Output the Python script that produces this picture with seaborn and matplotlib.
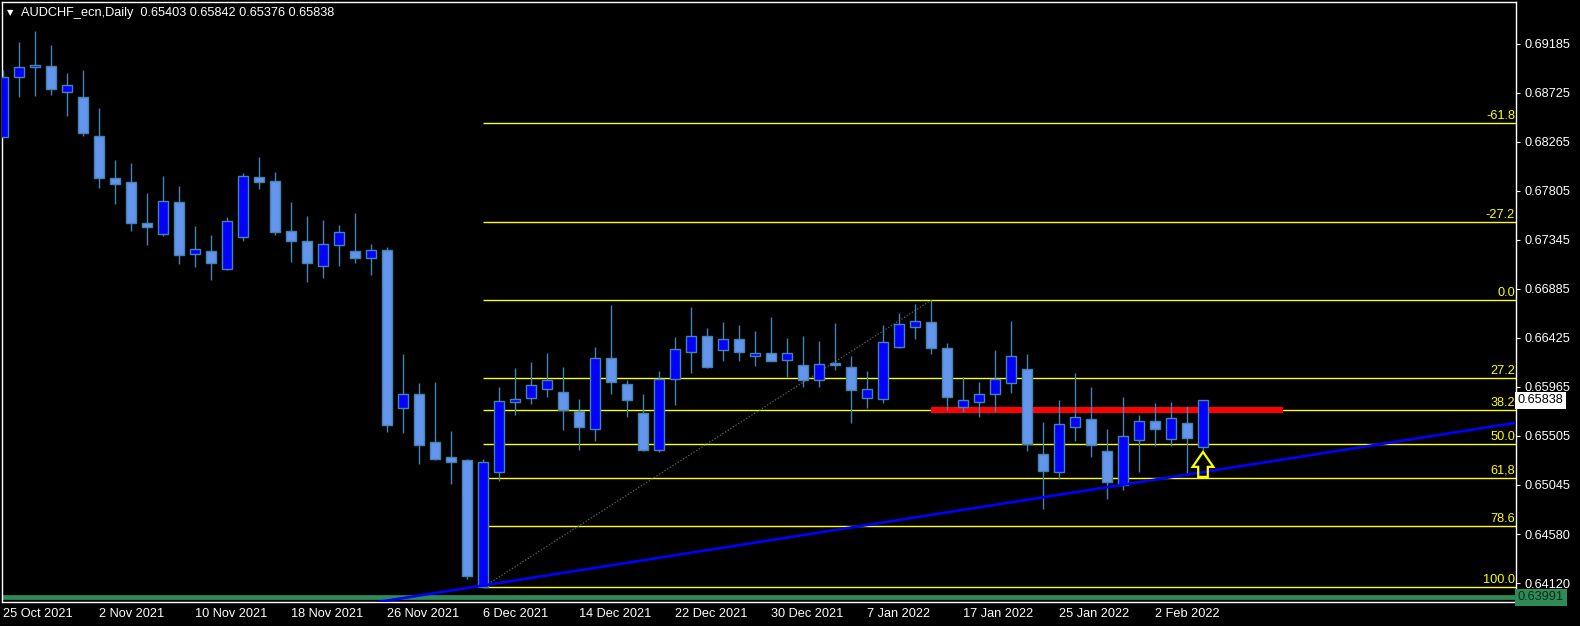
import matplotlib
matplotlib.use("Agg")
import matplotlib.pyplot as plt
import matplotlib.transforms as mtransforms
from matplotlib.patches import FancyArrow
import pandas as pd
import seaborn as sns

symbol = "AUDCHF_ecn,Daily"

# daily OHLC, one row per trading day from 25 Oct 2021 to 7 Feb 2022
opens = [0.68309, 0.68878, 0.68966, 0.68978, 0.68737, 0.68687, 0.68321, 0.67927, 0.67889, 0.67504,
         0.67398, 0.67701, 0.67210, 0.67241, 0.67069, 0.67370, 0.67933, 0.67896, 0.67429, 0.67335,
         0.67098, 0.67295, 0.67241, 0.67178, 0.67250, 0.65764, 0.65898, 0.65448, 0.65307, 0.65278,
         0.64090, 0.65169, 0.65826, 0.65863, 0.65948, 0.65917, 0.65741, 0.65572, 0.66236, 0.65992,
         0.65720, 0.65375, 0.66036, 0.66290, 0.66443, 0.66314, 0.66412, 0.66252, 0.66283, 0.66215,
         0.66168, 0.66027, 0.66189, 0.66149, 0.65863, 0.65848, 0.66342, 0.66530, 0.66574, 0.66330,
         0.65779, 0.65826, 0.65895, 0.65999, 0.66133, 0.65335, 0.65163, 0.65585, 0.65661, 0.65360,
         0.65041, 0.65469, 0.65645, 0.65479, 0.65623, 0.65403]
highs = [0.68941, 0.69204, 0.69307, 0.69176, 0.68913, 0.68941, 0.68584, 0.68096, 0.68067, 0.67786,
         0.67945, 0.67852, 0.67476, 0.67391, 0.67560, 0.67974, 0.68124, 0.67983, 0.67701, 0.67570,
         0.67532, 0.67485, 0.67598, 0.67307, 0.67279, 0.66274, 0.66002, 0.66011, 0.65551, 0.65290,
         0.65288, 0.65964, 0.66142, 0.66199, 0.66283, 0.66152, 0.65851, 0.66340, 0.66734, 0.66030,
         0.65898, 0.66114, 0.66434, 0.66715, 0.66518, 0.66574, 0.66546, 0.66490, 0.66621, 0.66424,
         0.66443, 0.66396, 0.66565, 0.66255, 0.66114, 0.66546, 0.66659, 0.66745, 0.66778, 0.66377,
         0.66058, 0.66011, 0.66311, 0.66584, 0.66274, 0.65635, 0.65842, 0.66095, 0.65964, 0.65570,
         0.65870, 0.65701, 0.65814, 0.65823, 0.65786, 0.65842]
lows = [0.68300, 0.68690, 0.68697, 0.68706, 0.68509, 0.68324, 0.67836, 0.67685, 0.67432, 0.67300,
        0.67385, 0.67122, 0.67094, 0.66972, 0.67060, 0.67338, 0.67826, 0.67394, 0.67141, 0.66953,
        0.66990, 0.67103, 0.67131, 0.67016, 0.65544, 0.65535, 0.65244, 0.65280, 0.65053, 0.64161,
        0.64083, 0.65084, 0.65704, 0.65807, 0.65873, 0.65560, 0.65372, 0.65460, 0.65898, 0.65682,
        0.65366, 0.65354, 0.65795, 0.66095, 0.66145, 0.66208, 0.66208, 0.66161, 0.66205, 0.66061,
        0.65967, 0.65967, 0.66126, 0.65629, 0.65770, 0.65817, 0.66333, 0.66417, 0.66277, 0.65748,
        0.65732, 0.65685, 0.65732, 0.65910, 0.65366, 0.64821, 0.65103, 0.65460, 0.65309, 0.64915,
        0.65000, 0.65168, 0.65413, 0.65413, 0.65153, 0.65376]
closes = [0.68878, 0.68966, 0.68985, 0.68762, 0.68797, 0.68349, 0.67929, 0.67873, 0.67507, 0.67469,
          0.67708, 0.67206, 0.67257, 0.67131, 0.67520, 0.67943, 0.67892, 0.67422, 0.67338, 0.67131,
          0.67304, 0.67417, 0.67178, 0.67248, 0.65607, 0.65895, 0.65422, 0.65288, 0.65260, 0.64189,
          0.65257, 0.65832, 0.65851, 0.65980, 0.66030, 0.65748, 0.65588, 0.66233, 0.66011, 0.65842,
          0.65372, 0.66039, 0.66318, 0.66440, 0.66152, 0.66412, 0.66295, 0.66280, 0.66211, 0.66280,
          0.66027, 0.66177, 0.66168, 0.65939, 0.65943, 0.66384, 0.66556, 0.66581, 0.66333, 0.65870,
          0.65839, 0.65895, 0.66036, 0.66252, 0.65429, 0.65178, 0.65614, 0.65679, 0.65417, 0.65075,
          0.65501, 0.65642, 0.65572, 0.65670, 0.65488, 0.65838]

date_labels = ['25 Oct 2021', '2 Nov 2021', '10 Nov 2021', '18 Nov 2021', '26 Nov 2021',
               '6 Dec 2021', '14 Dec 2021', '22 Dec 2021', '30 Dec 2021', '7 Jan 2022',
               '17 Jan 2022', '25 Jan 2022', '2 Feb 2022']
price_ticks = [0.69185, 0.68725, 0.68265, 0.67805, 0.67345, 0.66885, 0.66425,
               0.65965, 0.65505, 0.65045, 0.64580, 0.64120]

# fibo retracement drawn from the 6 Dec low to the 11 Jan high
fib_low_bar = 30
fib_high_bar = 58
fib_levels = [-61.8, -27.2, 0.0, 27.2, 38.2, 50.0, 61.8, 78.6, 100.0]
fib_labels = ['-61.8', '-27.2', '0.0', '27.2', '38.2', '50.0', '61,8', '78.6', '100.0']

# other chart objects
trend_bars = [30, 75]
trend_prices = [0.64100, 0.65165]
zone_bars = [58, 80]
zone_prices = [0.65716, 0.65772]
support_price = 0.63991
arrow_bar = 75
arrow_prices = [0.65120, 0.65354]

df = pd.DataFrame({'open': opens, 'high': highs, 'low': lows, 'close': closes})
df['bar'] = range(len(df))
df['bull'] = df['close'] >= df['open']

sns.set_theme(style='dark', rc={
    'figure.facecolor': 'black', 'axes.facecolor': 'black',
    'axes.edgecolor': 'white', 'text.color': 'white',
    'xtick.color': 'white', 'ytick.color': 'white',
})
plt.rcParams['font.family'] = ['Liberation Sans', 'DejaVu Sans']
fs = 9.2

fig = plt.figure(figsize=(15.8, 6.26), dpi=100)
ax = fig.add_axes([2 / 1580, 24 / 626, 1514 / 1580, 600 / 626])
ax.set_facecolor('black')

# support line at the bottom
ax.axhline(support_price, color='#2E8B57', lw=3.4, zorder=1)

# fibo levels
fib_range = highs[fib_high_bar] - lows[fib_low_bar]
blend = mtransforms.blended_transform_factory(ax.transAxes, ax.transData)
for lvl, lab in zip(fib_levels, fib_labels):
    price = highs[fib_high_bar] - lvl / 100 * fib_range
    ax.hlines(price, fib_low_bar, 200, color='#FFFF00', lw=1.0, zorder=2)
    ax.text(0.9993, price + 0.00012, lab, transform=blend, ha='right', va='bottom',
            color='#FFFF00', fontsize=fs, zorder=6)
ax.plot([fib_low_bar, fib_high_bar], [lows[fib_low_bar], highs[fib_high_bar]],
        color='#4a6e6a', lw=0.9, ls=(0, (1, 1.5)), zorder=2)

# resistance zone
ax.fill_between(zone_bars, zone_prices[0], zone_prices[1], color='#FF0000', lw=0, zorder=3)

# candles
wick_col = '#4682B4'
ax.vlines(df['bar'], df['low'], df['high'], color=wick_col, lw=1.0, zorder=4)
body_h = (df['close'] - df['open']).abs().clip(lower=0.00002)
body_b = df[['open', 'close']].min(axis=1)
colors = ['#0000FF' if b else '#6495ED' for b in df['bull']]
ax.bar(df['bar'], body_h, bottom=body_b, width=0.64, color=colors,
       edgecolor=wick_col, linewidth=1.0, zorder=5)

# rising trend line
ax.axline((trend_bars[0], trend_prices[0]), (trend_bars[1], trend_prices[1]),
          color='#0000FF', lw=1.9, zorder=6)

# buy arrow under the last candle
ax.add_patch(FancyArrow(arrow_bar, arrow_prices[0], 0, arrow_prices[1] - arrow_prices[0],
                        width=0.6, head_width=1.3, head_length=0.0014,
                        length_includes_head=True, fc='none', ec='#FFFF00', lw=1.6, zorder=7))

ax.set_xlim(-0.0625, 94.5625)
ax.set_ylim(0.63945, 0.69579)

for s in ax.spines.values():
    s.set_color('white')
    s.set_linewidth(1.0)

ax.yaxis.tick_right()
ax.set_yticks(price_ticks)
ax.set_yticklabels([f'{p:.5f}' for p in price_ticks])
ax.set_xticks(range(0, len(date_labels) * 6, 6))
ax.set_xticklabels(date_labels, ha='left')
ax.tick_params(axis='y', direction='out', length=3, width=0.8, colors='white',
               labelsize=fs, pad=3, right=True, left=False)
ax.tick_params(axis='x', direction='out', length=3, width=0.8, colors='white',
               labelsize=fs, pad=1.5)
ax.grid(False)

# price tags on the scale
ax.text(1.0013, closes[-1], f'{closes[-1]:.5f}', transform=blend, ha='left', va='center',
        color='black', fontsize=fs, clip_on=False, zorder=10,
        bbox=dict(boxstyle='square,pad=0.2', fc='white', ec='none'))
ax.text(1.0013, support_price, f'{support_price:.5f}', transform=blend, ha='left', va='center',
        color='#0a2a14', fontsize=fs, clip_on=False, zorder=10,
        bbox=dict(boxstyle='square,pad=0.2', fc='#2E8B57', ec='none'))

# header
fig.text(7 / 1580, 1 - 13 / 626, '▼', fontsize=6, color='white', va='center',
         family=['DejaVu Sans'])
fig.text(21 / 1580, 1 - 13 / 626,
         f'{symbol}  {opens[-1]:.5f} {highs[-1]:.5f} {lows[-1]:.5f} {closes[-1]:.5f}',
         fontsize=fs, color='white', va='center')

fig.savefig('out.png', dpi=100, facecolor='black')
